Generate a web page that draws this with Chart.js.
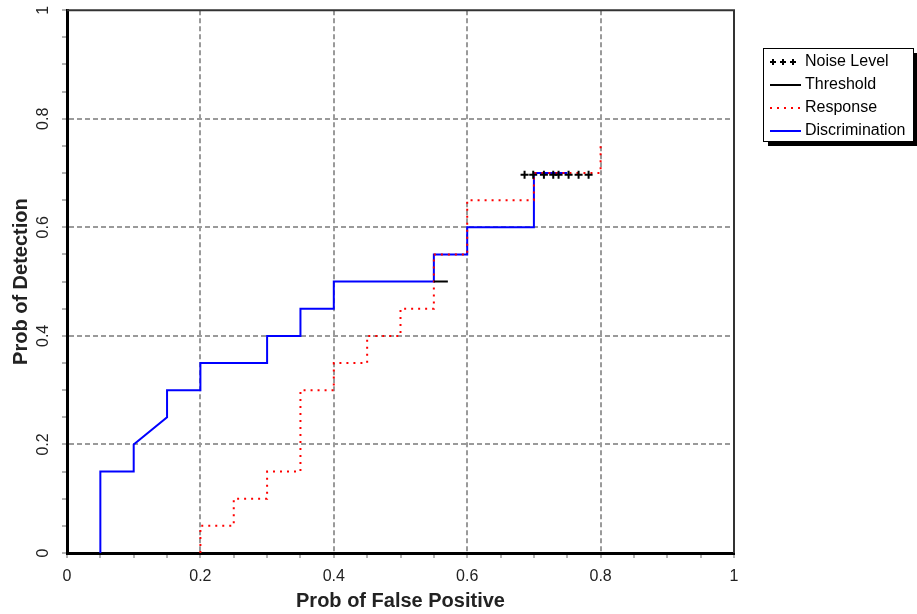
<!DOCTYPE html>
<html>
<head>
<meta charset="utf-8">
<title>ROC</title>
<script src="https://cdn.jsdelivr.net/npm/chart.js@4.4.1/dist/chart.umd.min.js"></script>
<style>
    body { margin: 0; background: #fff; }
    canvas { display: block; }
</style>
</head>
<body>
<canvas id="myChart" width="917" height="614"></canvas>
<script>
// series (x = prob of false positive, y = prob of detection)
var seriesNames = ["Noise Level", "Threshold", "Response", "Discrimination"];
var noiseX = [0.686, 0.699, 0.715, 0.729, 0.737, 0.752, 0.767, 0.782];
var noiseY = [0.697, 0.697, 0.697, 0.697, 0.697, 0.697, 0.697, 0.697];
var thresholdX = [0.55, 0.571];
var thresholdY = [0.5, 0.5];
var responseX = [0.2, 0.2, 0.25, 0.25, 0.3, 0.3, 0.35, 0.35, 0.4, 0.4, 0.45, 0.45, 0.5, 0.5, 0.55, 0.55, 0.6, 0.6, 0.7, 0.7, 0.8, 0.8];
var responseY = [0, 0.05, 0.05, 0.1, 0.1, 0.15, 0.15, 0.3, 0.3, 0.35, 0.35, 0.4, 0.4, 0.45, 0.45, 0.55, 0.55, 0.65, 0.65, 0.7, 0.7, 0.75];
var discrimX = [0.05, 0.05, 0.1, 0.1, 0.15, 0.15, 0.2, 0.2, 0.3, 0.3, 0.35, 0.35, 0.4, 0.4, 0.55, 0.55, 0.6, 0.6, 0.7, 0.7, 0.75];
var discrimY = [0, 0.15, 0.15, 0.2, 0.25, 0.3, 0.3, 0.35, 0.35, 0.4, 0.4, 0.45, 0.45, 0.5, 0.5, 0.55, 0.55, 0.6, 0.6, 0.7, 0.7];
var tickLabels = ["0", "0.2", "0.4", "0.6", "0.8", "1"];

var sans = "'Liberation Sans', Arial, sans-serif";

function points(xs, ys) {
    var out = [];
    for (let i = 0; i < xs.length; i++) {
        out.push({ x: xs[i], y: ys[i] });
    }
    return out;
}

function isMajor(v) {
    return Math.abs(v * 5 - Math.round(v * 5)) < 1e-6;
}

function majorLabel(v) {
    return isMajor(v) ? tickLabels[Math.round(v * 5)] : "";
}

function gridColor(ctx) {
    var v = ctx.tick ? ctx.tick.value : 0;
    if (isMajor(v) && v > 0.01 && v < 0.99) return "#9a9a9a";
    return "rgba(0,0,0,0)";
}

// frame on the top/right, rotated y labels and the boxed legend
var extras = {
    id: "extras",
    afterDraw: function (chart) {
        var ctx = chart.ctx;
        var a = chart.chartArea;
        var ys = chart.scales.y;
        ctx.save();
        ctx.strokeStyle = "#333";
        ctx.lineWidth = 2;
        ctx.beginPath();
        ctx.moveTo(a.left, a.top);
        ctx.lineTo(a.right, a.top);
        ctx.lineTo(a.right, a.bottom);
        ctx.stroke();

        ctx.fillStyle = "#222";
        ctx.font = "16px " + sans;
        ctx.textAlign = "center";
        ctx.textBaseline = "middle";
        for (let i = 0; i < tickLabels.length; i++) {
            var py = ys.getPixelForValue(i * 0.2);
            ctx.save();
            ctx.translate(44, py);
            ctx.rotate(-Math.PI / 2);
            ctx.fillText(tickLabels[i], 0, 0);
            ctx.restore();
        }

        // legend
        var bx = 763, by = 48, bw = 150, bh = 93;
        ctx.fillStyle = "#000";
        ctx.fillRect(bx + 5, by + 5, bw, bh);
        ctx.fillStyle = "#fff";
        ctx.fillRect(bx, by, bw, bh);
        ctx.strokeStyle = "#000";
        ctx.lineWidth = 1;
        ctx.strokeRect(bx + 0.5, by + 0.5, bw, bh);
        ctx.font = "16px " + sans;
        ctx.textAlign = "left";
        var rows = [62, 85, 108, 131];
        chart.data.datasets.forEach(function (ds, i) {
            var ry = rows[i];
            ctx.fillStyle = "#000";
            ctx.fillText(ds.label, 805, ry);
            if (ds.showLine === false) {
                ctx.strokeStyle = "#000";
                ctx.lineWidth = 2;
                [773, 783, 793].forEach(function (cx) {
                    ctx.beginPath();
                    ctx.moveTo(cx - 3, ry); ctx.lineTo(cx + 3, ry);
                    ctx.moveTo(cx, ry - 3); ctx.lineTo(cx, ry + 3);
                    ctx.stroke();
                });
            } else {
                ctx.strokeStyle = ds.borderColor;
                ctx.lineWidth = 2;
                ctx.setLineDash(ds.borderDash || []);
                ctx.beginPath();
                ctx.moveTo(770, ry);
                ctx.lineTo(801, ry);
                ctx.stroke();
                ctx.setLineDash([]);
            }
        });
        ctx.restore();
    }
};

var ctx = document.getElementById("myChart").getContext("2d");
var chart = new Chart(ctx, {
    type: "line",
    data: {
        datasets: [{
            label: seriesNames[0],
            data: points(noiseX, noiseY),
            showLine: false,
            pointStyle: "cross",
            pointRadius: 4,
            borderWidth: 2,
            borderColor: "#000",
            backgroundColor: "#000"
        }, {
            label: seriesNames[1],
            data: points(thresholdX, thresholdY),
            borderColor: "#000",
            borderWidth: 2,
            pointRadius: 0
        }, {
            label: seriesNames[2],
            data: points(responseX, responseY),
            borderColor: "#ff0000",
            borderWidth: 2,
            borderDash: [2, 5],
            pointRadius: 0
        }, {
            label: seriesNames[3],
            data: points(discrimX, discrimY),
            borderColor: "#0000ff",
            borderWidth: 2,
            pointRadius: 0
        }]
    },
    options: {
        responsive: false,
        animation: false,
        layout: { padding: { left: 0, top: 9, right: 183, bottom: 0 } },
        plugins: {
            legend: { display: false },
            tooltip: { enabled: false }
        },
        elements: { line: { tension: 0, fill: false } },
        scales: {
            x: {
                type: "linear",
                min: 0,
                max: 1,
                afterFit: function (s) { s.height = 61; },
                ticks: {
                    stepSize: 0.05,
                    autoSkip: false,
                    maxRotation: 0,
                    color: "#222",
                    font: { family: sans, size: 16 },
                    padding: 9,
                    callback: majorLabel
                },
                grid: { color: gridColor, lineWidth: 2, tickColor: "#666", tickLength: 5, tickWidth: 1 },
                border: { color: "#000", width: 3, dash: [5, 3] },
                title: {
                    display: true,
                    text: "Prob of False Positive",
                    color: "#222",
                    font: { family: sans, size: 20, weight: "bold" },
                    padding: { top: 0, bottom: 1 }
                }
            },
            y: {
                type: "linear",
                min: 0,
                max: 1,
                afterFit: function (s) { s.width = 67; },
                ticks: {
                    stepSize: 0.05,
                    autoSkip: false,
                    color: "rgba(0,0,0,0)",
                    callback: function () { return ""; }
                },
                grid: { color: gridColor, lineWidth: 2, tickColor: "#666", tickLength: 5, tickWidth: 1 },
                border: { color: "#000", width: 3, dash: [5, 3] },
                title: {
                    display: true,
                    text: "Prob of Detection",
                    color: "#222",
                    font: { family: sans, size: 20, weight: "bold" },
                    padding: { top: 9, bottom: 0 }
                }
            }
        }
    },
    plugins: [extras]
});
</script>
</body>
</html>
